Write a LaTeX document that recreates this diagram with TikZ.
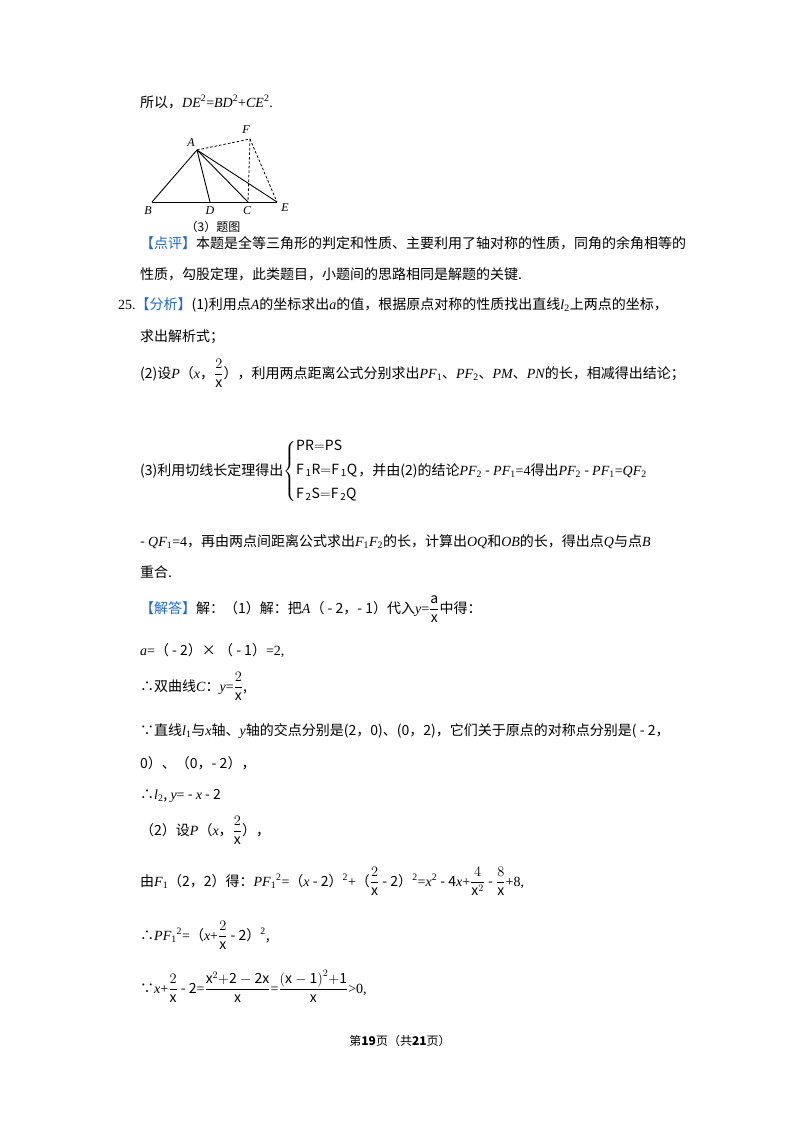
\documentclass[tikz,border=0pt]{standalone}
\usepackage{amsmath}
\usepackage{fontspec}
\setmainfont{Noto Sans CJK SC}
\newfontfamily\lser{Liberation Serif}
\newcommand{\iv}[1]{{\lser\itshape #1}}
\newcommand{\rs}[1]{{\lser #1}}
\definecolor{tagblue}{RGB}{30,105,210}
\begin{document}
\begin{tikzpicture}[x=1pt,y=-1pt,
  txt/.style={anchor=base west,inner sep=0pt,font=\fontsize{14}{17}\selectfont},
  lbl/.style={inner sep=0pt,font=\fontsize{12}{14}\selectfont\lser\itshape},
  seg/.style={line width=0.9pt},
  dsh/.style={line width=0.8pt,dashed,dash pattern=on 2.5pt off 2pt}]
\useasboundingbox (0,0) rectangle (800,1132);
\fill[white] (0,0) rectangle (800,1132);
% first line
\node[txt] (l1) at (140,107) {所以，\iv{DE}\rs{\textsuperscript{2}=}\iv{BD}\rs{\textsuperscript{2}+}\iv{CE}\rs{\textsuperscript{2}.}};
% figure
\coordinate (A) at (197,150); \coordinate (F) at (250,139);
\coordinate (B) at (152,202); \coordinate (D) at (210,202);
\coordinate (C) at (248,202); \coordinate (E) at (277,202);
\draw[seg] (B) -- (E); \draw[seg] (A) -- (B); \draw[seg] (A) -- (D);
\draw[seg] (A) -- (C); \draw[seg] (A) -- (E);
\draw[dsh] (A) -- (F) -- (E); \draw[dsh] (F) -- (C);
\node[lbl] (lA) at (191,143) {A}; \node[lbl] (lF) at (246,130) {F};
\node[lbl] (lB) at (148,211) {B}; \node[lbl] (lD) at (210,211) {D};
\node[lbl] (lC) at (247,211) {C}; \node[lbl] (lE) at (285,208) {E};
\node[inner sep=0pt,font=\fontsize{12}{14}\selectfont] (cap) at (213,227) {（3）题图};
% comment
\node[txt] (p1) at (140,248) {\textcolor{tagblue}{【点评】}本题是全等三角形的判定和性质、主要利用了轴对称的性质，同角的余角相等的};
\node[txt] (p2) at (140,279) {性质，勾股定理，此类题目，小题间的思路相同是解题的关键.};
\node[txt] (q1) at (118,309) {\rs{25.}\textcolor{tagblue}{【分析】}(1)利用点\iv{A}的坐标求出\iv{a}的值，根据原点对称的性质找出直线\iv{l}\rs{\textsubscript{2}}上两点的坐标，};
\node[txt] (q2) at (140,341) {求出解析式；};
\node[txt] (q3) at (140,378) {(2)设\iv{P}（\iv{x}，$\dfrac{2}{\mathrm{x}}$），利用两点距离公式分别求出\iv{PF}\rs{\textsubscript{1}}、\iv{PF}\rs{\textsubscript{2}}、\iv{PM}、\iv{PN}的长，相减得出结论；};
\node[txt] (q4) at (140,475) {(3)利用切线长定理得出$\left\{\begin{array}{@{}l@{}}\mathrm{PR{=}PS}\\[7pt] \mathrm{F_{\,1}R{=}F_{\,1}Q}\\[7pt] \mathrm{F_{\,2}S{=}F_{\,2}Q}\end{array}\right.$，并由(2)的结论\iv{PF}\rs{\textsubscript{2}} - \iv{PF}\rs{\textsubscript{1}=4}得出\iv{PF}\rs{\textsubscript{2}} - \iv{PF}\rs{\textsubscript{1}=}\iv{QF}\rs{\textsubscript{2}}};
\node[txt] (q5) at (140,546) {- \iv{QF}\rs{\textsubscript{1}=4}，再由两点间距离公式求出\iv{F}\rs{\textsubscript{1}}\iv{F}\rs{\textsubscript{2}}的长，计算出\iv{OQ}和\iv{OB}的长，得出点\iv{Q}与点\iv{B}};
\node[txt] (q6) at (140,577) {重合.};
% solution
\node[txt] (s1) at (140,613) {\textcolor{tagblue}{【解答】}解：（1）解：把\iv{A}（ - 2，- 1）代入\iv{y}\rs{=}$\dfrac{\mathrm{a}}{\mathrm{x}}$中得：};
\node[txt] (s2) at (140,655) {\iv{a}\rs{=}（ - 2）× （ - 1）\rs{=2,}};
\node[txt] (s3) at (140,691) {∴双曲线\iv{C}：\iv{y}\rs{=}$\dfrac{2}{\mathrm{x}}$,};
\node[txt] (s4) at (140,735) {∵直线\iv{l}\rs{\textsubscript{1}}与\iv{x}轴、\iv{y}轴的交点分别是(2，0)、(0，2)，它们关于原点的对称点分别是( - 2，};
\node[txt] (s5) at (140,768) {0）、（0，- 2），};
\node[txt] (s6) at (140,799) {∴\iv{l}\rs{\textsubscript{2}}, \iv{y}\rs{=} - \iv{x} - 2};
\node[txt] (s7) at (140,835) {（2）设\iv{P}（\iv{x}，$\dfrac{2}{\mathrm{x}}$），};
\node[txt] (s8) at (140,886) {由\iv{F}\rs{\textsubscript{1}}（2，2）得：\iv{PF}\rs{\textsubscript{1}\textsuperscript{2}=}（\iv{x} - 2）\rs{\textsuperscript{2}+}（$\dfrac{2}{\mathrm{x}}$ - 2）\rs{\textsuperscript{2}=}\iv{x}\rs{\textsuperscript{2}} - 4\iv{x}\rs{+}$\dfrac{4}{\mathrm{x}^{2}}$ - $\dfrac{8}{\mathrm{x}}$\rs{+8,}};
\node[txt] (s9) at (140,940) {∴\iv{PF}\rs{\textsubscript{1}\textsuperscript{2}=}（\iv{x}\rs{+}$\dfrac{2}{\mathrm{x}}$ - 2）\rs{\textsuperscript{2}},};
\node[txt] (s10) at (140,993) {∵\iv{x}\rs{+}$\dfrac{2}{\mathrm{x}}$ - 2\rs{=}$\dfrac{\mathrm{x}^{2}\mathrm{+2-2x}}{\mathrm{x}}$\rs{=}$\dfrac{\mathrm{(x-1)}^{2}\mathrm{+1}}{\mathrm{x}}$\rs{>0,}};
% footer
\node[inner sep=0pt,anchor=base,font=\fontsize{12}{14}\selectfont] (ft) at (400,1045) {第\textbf{19}页（共\textbf{21}页）};
\end{tikzpicture}
\end{document}
